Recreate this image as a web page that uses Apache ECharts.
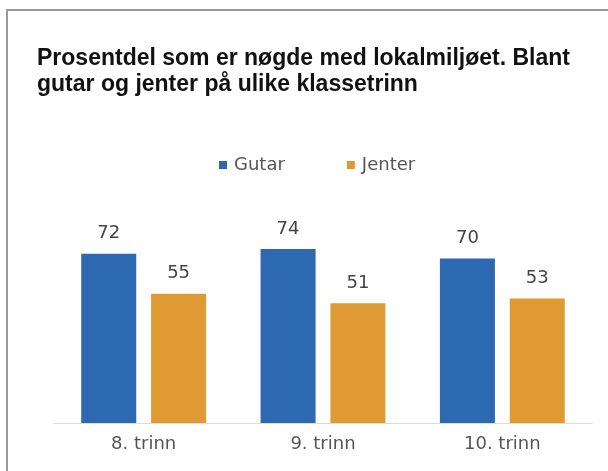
<!DOCTYPE html>
<html>
<head>
<meta charset="utf-8">
<script src="https://cdn.jsdelivr.net/npm/echarts@6/dist/echarts.min.js"></script>
<style>
  html, body { margin: 0; padding: 0; background: #fff; }
  #container { width: 608px; height: 471px; }
</style>
</head>
<body>
<div id="container"></div>
<script>
const categories = ['8. trinn', '9. trinn', '10. trinn'];
const gutar = [72, 74, 70];
const jenter = [55, 51, 53];

const chart = echarts.init(document.getElementById('container'));

const labelStyle = {
  show: true,
  position: 'top',
  distance: 11,
  color: '#444',
  fontSize: 18,
  fontFamily: 'DejaVu Sans'
};

chart.setOption({
  backgroundColor: '#fff',
  animation: false,
  graphic: [{
    type: 'rect',
    shape: { x: 7, y: 10, width: 700, height: 600 },
    style: { fill: 'none', stroke: '#9a9a9a', lineWidth: 2 }
  }],
  title: {
    text: 'Prosentdel som er nøgde med lokalmiljøet. Blant\ngutar og jenter på ulike klassetrinn',
    left: 32,
    top: 41,
    textStyle: {
      fontFamily: 'Liberation Sans',
      fontWeight: 'bold',
      fontSize: 23,
      lineHeight: 26,
      color: '#111'
    }
  },
  legend: {
    top: 151,
    left: 214,
    itemWidth: 8,
    itemHeight: 8,
    itemGap: 62,
    icon: 'rect',
    textStyle: { color: '#555', fontSize: 18, fontFamily: 'DejaVu Sans', padding: [0, 0, 0, 2] },
    data: ['Gutar', 'Jenter']
  },
  grid: { left: 54, right: 16, top: 188, bottom: 48 },
  xAxis: {
    type: 'category',
    data: categories,
    axisLine: { lineStyle: { color: '#dcdcdc', width: 1 } },
    axisTick: { show: false },
    axisLabel: { color: '#555', fontSize: 18, fontFamily: 'DejaVu Sans', margin: 12 }
  },
  yAxis: {
    type: 'value',
    min: 0,
    max: 100,
    show: false,
    splitLine: { show: false }
  },
  series: [
    {
      name: 'Gutar',
      type: 'bar',
      data: gutar,
      barWidth: 55,
      barGap: '27%',
      itemStyle: { color: '#2c69b0' },
      label: labelStyle
    },
    {
      name: 'Jenter',
      type: 'bar',
      data: jenter,
      barWidth: 55,
      itemStyle: { color: '#e09a33' },
      label: labelStyle
    }
  ]
});
</script>
</body>
</html>
